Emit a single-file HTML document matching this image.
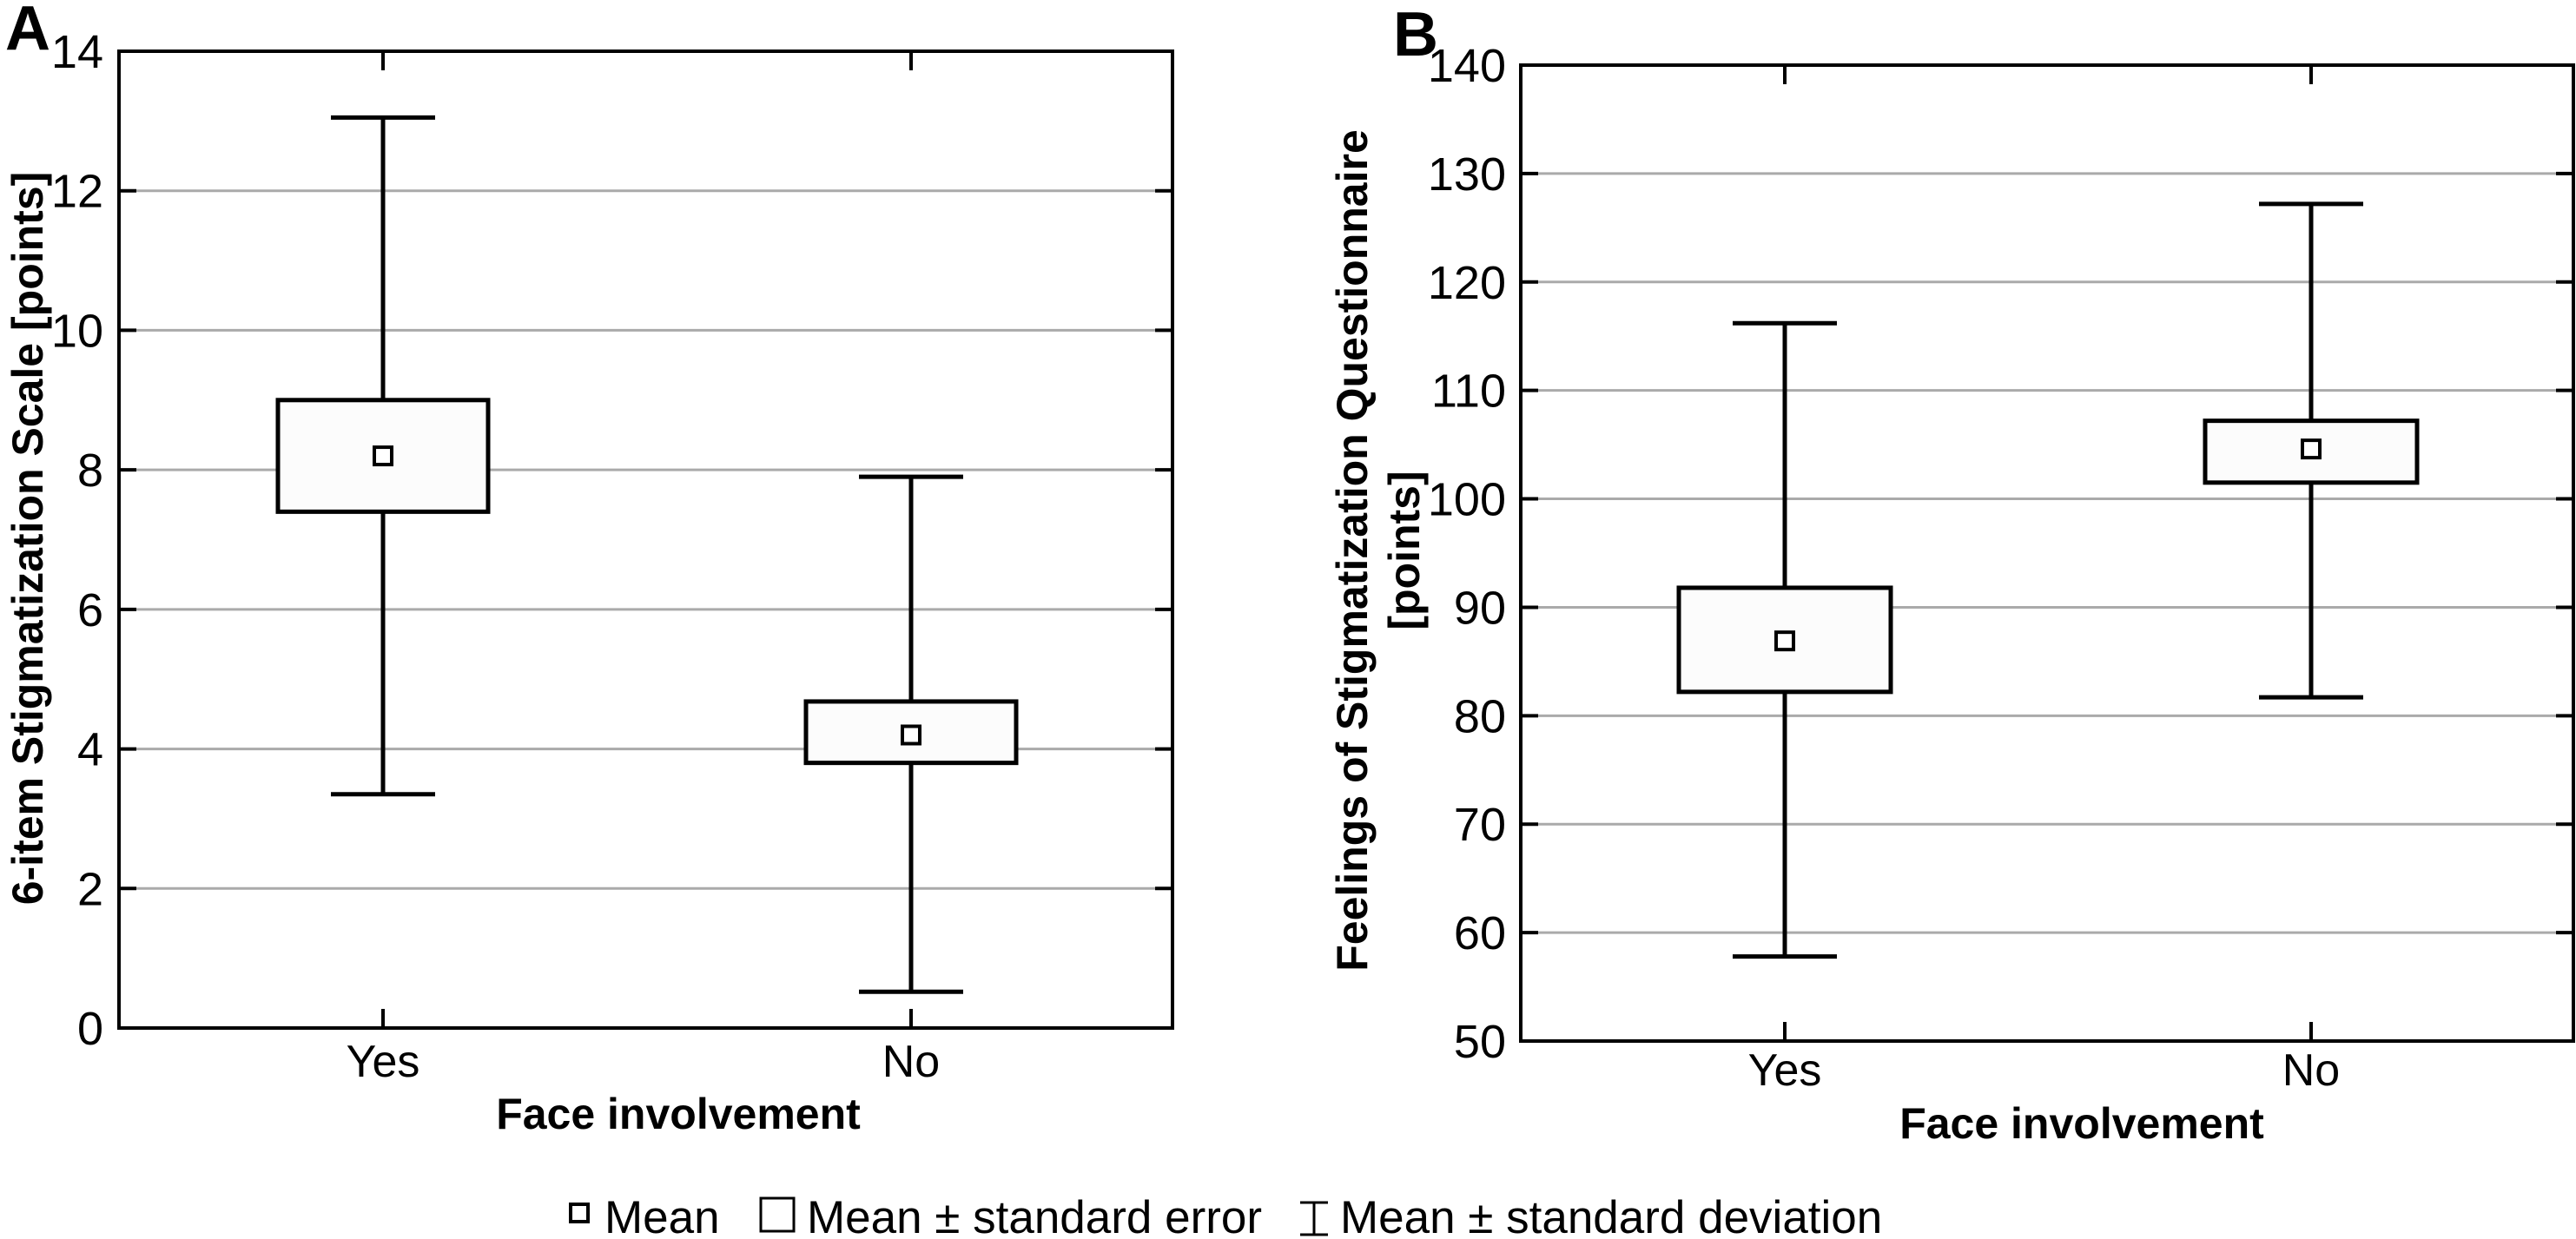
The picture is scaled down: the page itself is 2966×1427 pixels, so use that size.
<!DOCTYPE html>
<html><head><meta charset="utf-8"><style>
html,body{margin:0;padding:0;background:#fff}
svg{display:block}
text{font-family:"Liberation Sans",sans-serif;fill:#000}
</style></head><body>
<svg id="chart" width="2966" height="1427" viewBox="0 0 2966 1427" xmlns="http://www.w3.org/2000/svg">
<g id="panelA"></g>
<g id="panelB"></g>
<g id="legend">
  <rect x="657" y="1387" width="20" height="20" fill="#fff" stroke="#000" stroke-width="4"/>
  <text x="696" y="1420" font-size="53">Mean</text>
  <rect x="876" y="1380" width="38" height="38" fill="#fff" stroke="#000" stroke-width="3"/>
  <text x="929" y="1420" font-size="53">Mean ± standard error</text>
  <path d="M1497 1385H1529M1513 1385V1422M1497 1422H1529" stroke="#000" stroke-width="3" fill="none"/>
  <text x="1543" y="1420" font-size="53">Mean ± standard deviation</text>
</g>
</svg>
<script>
const categories = ["Yes", "No"];
const aTicks = [0, 2, 4, 6, 8, 10, 12, 14];
const aMean = [8.2, 4.2];
const aSeLow = [7.4, 3.8];
const aSeHigh = [9.0, 4.68];
const aSdLow = [3.35, 0.52];
const aSdHigh = [13.05, 7.9];
const bTicks = [50, 60, 70, 80, 90, 100, 110, 120, 130, 140];
const bMean = [86.9, 104.6];
const bSeLow = [82.2, 101.5];
const bSeHigh = [91.8, 107.2];
const bSdLow = [57.8, 81.7];
const bSdHigh = [116.2, 127.2];

const NS = "http://www.w3.org/2000/svg";
function mk(parent, tag, attrs, txt) {
  const e = document.createElementNS(NS, tag);
  for (const k in attrs) e.setAttribute(k, attrs[k]);
  if (txt !== undefined) e.textContent = txt;
  parent.appendChild(e);
  return e;
}

function drawPanel(g, cfg) {
  const {L, R, T, B, ticks, xs, mean, seL, seH, sdL, sdH, boxHalf, capHalf, tickRight, xLabelY, titleX, titleY, prefix} = cfg;
  const ymin = ticks[0], ymax = ticks[ticks.length - 1];
  const y = v => B - (v - ymin) / (ymax - ymin) * (B - T);
  ticks.forEach((t, i) => {
    if (i > 0 && i < ticks.length - 1) {
      const gl = mk(g, "line", {x1: L, x2: R, y1: y(t), y2: y(t), stroke: "#aaa", "stroke-width": 3});
      
      
    }
    const tk = mk(g, "path", {d: `M${L} ${y(t)}h20M${R} ${y(t)}h-20`, stroke: "#000", "stroke-width": 4});
    
    
    const lb = mk(g, "text", {x: tickRight, y: y(t) + 19, "font-size": 54, "text-anchor": "end"}, String(t));
    
    
  });
  const frame = mk(g, "rect", {x: L, y: T, width: R - L, height: B - T, fill: "none", stroke: "#000", "stroke-width": 4});
  
  
  categories.forEach((c, i) => {
    const x = xs[i];
    const xt = mk(g, "path", {d: `M${x} ${B}v-22M${x} ${T}v22`, stroke: "#000", "stroke-width": 4});
    
    
    const xl = mk(g, "text", {x: x, y: xLabelY, "font-size": 52, "text-anchor": "middle"}, c);
    
    
    const wh = mk(g, "path", {d: `M${x - capHalf} ${y(sdH[i])}H${x + capHalf}M${x} ${y(sdH[i])}V${y(sdL[i])}M${x - capHalf} ${y(sdL[i])}H${x + capHalf}`, stroke: "#000", "stroke-width": 5, fill: "none"});
    
    
    const bx = mk(g, "rect", {x: x - boxHalf, y: y(seH[i]), width: 2 * boxHalf, height: y(seL[i]) - y(seH[i]), fill: "#fcfcfc", stroke: "#000", "stroke-width": 5});
    
    
    const mm = mk(g, "rect", {x: x - 10, y: y(mean[i]) - 10, width: 20, height: 20, fill: "#fff", stroke: "#000", "stroke-width": 4});
    
    
  });
  const xt = mk(g, "text", {x: titleX, y: titleY, "font-size": 50, "font-weight": "bold", "text-anchor": "middle"}, "Face involvement");
  
  
}

const gA = document.getElementById("panelA");
drawPanel(gA, {L: 137, R: 1350, T: 59, B: 1184, ticks: aTicks, xs: [441, 1049], mean: aMean, seL: aSeLow, seH: aSeHigh, sdL: aSdLow, sdH: aSdHigh, boxHalf: 121, capHalf: 60, tickRight: 119, xLabelY: 1240, titleX: 781, titleY: 1300, prefix: "a"});
const aY = mk(gA, "text", {x: 0, y: 0, "font-size": 50, "font-weight": "bold", "text-anchor": "middle", transform: "translate(49 620) rotate(-90)"}, "6-item Stigmatization Scale [points]");


const aL = mk(gA, "text", {x: 6, y: 57, "font-size": 72, "font-weight": "bold"}, "A");



const gB = document.getElementById("panelB");
drawPanel(gB, {L: 1751, R: 2963, T: 75, B: 1199, ticks: bTicks, xs: [2055, 2661], mean: bMean, seL: bSeLow, seH: bSeHigh, sdL: bSdLow, sdH: bSdHigh, boxHalf: 122, capHalf: 60, tickRight: 1734, xLabelY: 1250, titleX: 2397, titleY: 1311, prefix: "b"});
const bY1 = mk(gB, "text", {x: 0, y: 0, "font-size": 50, "font-weight": "bold", "text-anchor": "middle", transform: "translate(1574 634) rotate(-90)"}, "Feelings of Stigmatization Questionnaire");


const bY2 = mk(gB, "text", {x: 0, y: 0, "font-size": 50, "font-weight": "bold", "text-anchor": "middle", transform: "translate(1634 634) rotate(-90)"}, "[points]");


const bL = mk(gB, "text", {x: 1604, y: 64, "font-size": 72, "font-weight": "bold"}, "B");


</script>
</body></html>
